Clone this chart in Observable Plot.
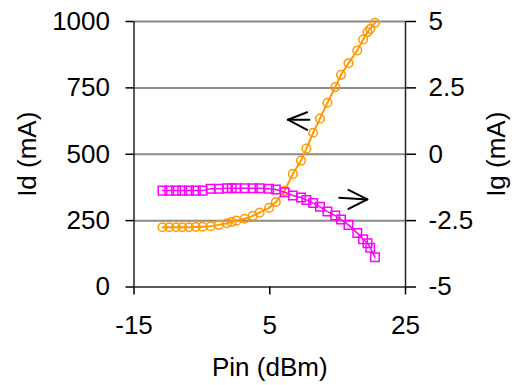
<!DOCTYPE html>
<html><head><meta charset="utf-8">
<script src="https://cdn.jsdelivr.net/npm/d3@7"></script>
<script src="https://cdn.jsdelivr.net/npm/@observablehq/plot@0.6"></script>
<style>body{margin:0;background:#fff;}</style>
</head><body><div id="chart"></div>
<script>
// Pin (dBm) measurement points, shared by both series
const pin = [-10.8,-9.8,-8.8,-7.9,-6.9,-5.9,-4.9,-3.7,-2.5,-1.3,-0.6,0.1,1.3,2.5,3.5,4.9,5.9,7.2,8.4,9.6,10.4,11.4,12.4,13.5,14.65,15.5,16.6,17.9,18.75,19.4,19.8,20.5];
// Drain current Id (mA), left axis
const idValues = [225,225,225,225,225,226,227,229,234,240,245,250,257,268,280,298,320,362,426,476,521,581,634,694,753,799,843,891,932,960,972,995];
// Gate current Ig (mA), right axis
const igValues = [-1.37,-1.37,-1.37,-1.37,-1.37,-1.37,-1.37,-1.30,-1.30,-1.28,-1.28,-1.28,-1.28,-1.28,-1.28,-1.30,-1.33,-1.43,-1.55,-1.63,-1.72,-1.84,-1.98,-2.16,-2.31,-2.46,-2.66,-2.97,-3.20,-3.35,-3.52,-3.88];

const idTicks = [0,250,500,750,1000];
const igTicks = [-5,-2.5,0,2.5,5];
const pinTicks = [-15,5,25];
const gridValues = [250,500,750,1000];

// annotation arrows (in Pin / Id units), each part a polyline
const arrowPart = ["s1","s1","h1","h1","h1","s2","s2","h2","h2","h2"];
const arrowX = [7.66,10.84,10.5,7.66,10.5,15.24,19.38,16.6,19.38,16.6];
const arrowY = [630,630,658,630,592,336,330,366,330,294];

const igToY = v => (v + 5) * 100; // secondary-axis mapping: Ig -5..5 ↔ Id 0..1000

const data = pin.map((p, i) => ({pin: p, id: idValues[i], ig: igValues[i]}));
const arrows = arrowX.map((x, i) => ({x, y: arrowY[i], part: arrowPart[i]}));

const font = "Liberation Sans, Arial, sans-serif";
const fs = 26;

const chart = Plot.plot({
  width: 515, height: 385,
  marginLeft: 133.5, marginRight: 110, marginTop: 21, marginBottom: 98.5,
  style: {fontFamily: font, fontSize: fs + "px", color: "#000", background: "#fff", overflow: "visible"},
  x: {domain: [-15, 25]},
  y: {domain: [0, 1000]},
  marks: [
    Plot.ruleY(gridValues, {stroke: "#8a8a8a", strokeWidth: 2}),
    Plot.ruleX([pinTicks[0]], {stroke: "#222", strokeWidth: 1.5}),
    Plot.ruleX([pinTicks[pinTicks.length - 1]], {stroke: "#222", strokeWidth: 1.5}),
    Plot.ruleY([idTicks[0]], {stroke: "#222", strokeWidth: 1.5}),
    Plot.axisY(idTicks, {anchor: "left", tickSize: 8, tickPadding: 16, fontSize: fs, label: null, strokeWidth: 1.5, tickFormat: d => String(d)}),
    Plot.axisY(igTicks.map(igToY), {anchor: "right", tickSize: 10, tickPadding: 13, fontSize: fs, label: null, strokeWidth: 1.5, tickFormat: d => String(d / 100 - 5)}),
    Plot.axisX(pinTicks, {anchor: "bottom", tickSize: 8, tickPadding: 21, fontSize: fs, label: null, strokeWidth: 1.5, tickFormat: d => String(d)}),
    Plot.line(data, {x: "pin", y: "id", stroke: "#FF9900", strokeWidth: 2}),
    Plot.dot(data, {x: "pin", y: "id", r: 4.3, stroke: "#FF9900", strokeWidth: 1.5, fill: "none"}),
    Plot.line(data, {x: "pin", y: d => igToY(d.ig), stroke: "#FF00FF", strokeWidth: 1.5}),
    Plot.dot(data, {x: "pin", y: d => igToY(d.ig), symbol: "square", r: 4.8, stroke: "#FF00FF", strokeWidth: 1.5, fill: "none"}),
    Plot.line(arrows, {x: "x", y: "y", z: "part", stroke: "#000", strokeWidth: 2}),
    Plot.text(["Id (mA)"], {frameAnchor: "left", dx: -106.5, rotate: -90, fontSize: fs, textAnchor: "middle", lineAnchor: "middle"}),
    Plot.text(["Ig (mA)"], {frameAnchor: "right", dx: 91, rotate: -90, fontSize: fs, textAnchor: "middle", lineAnchor: "middle"}),
    Plot.text(["Pin (dBm)"], {frameAnchor: "bottom", dy: 81, fontSize: fs, textAnchor: "middle", lineAnchor: "middle"})
  ]
});
document.getElementById("chart").appendChild(chart);
</script>
</body></html>
